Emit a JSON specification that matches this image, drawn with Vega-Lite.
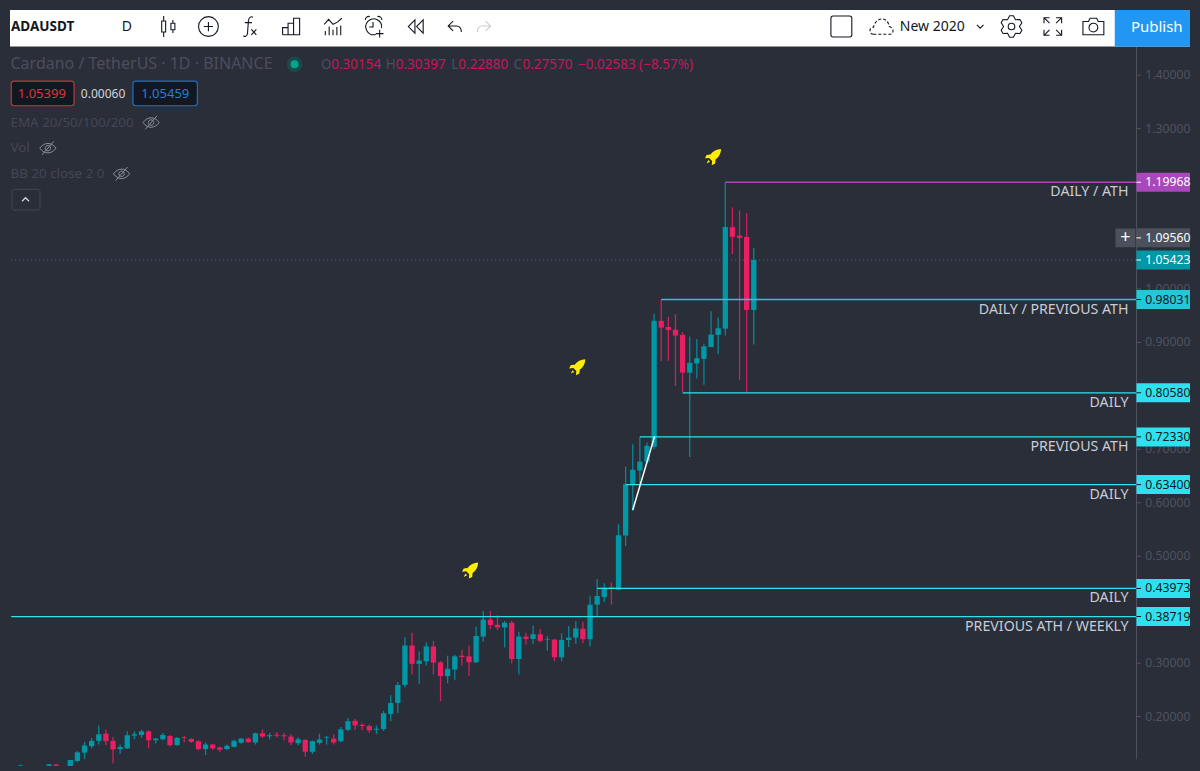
{
  "$schema": "https://vega.github.io/schema/vega-lite/v6.json",
  "autosize": {"type": "fit", "contains": "padding"},
  "width": 1200,
  "height": 771,
  "background": "#2a2e39",
  "config": {"view": {"stroke": null}, "text": {"font": "Noto Sans"}},
  "datasets": {
    "candles": [
      {"bar":2,"o":0.1085,"h":0.1105,"l":0.105,"c":0.1095},
      {"bar":6,"o":0.1079,"h":0.1115,"l":0.105,"c":0.1109},
      {"bar":7,"o":0.1103,"h":0.1115,"l":0.105,"c":0.1079},
      {"bar":9,"o":0.105,"h":0.119,"l":0.105,"c":0.1189},
      {"bar":10,"o":0.1171,"h":0.1355,"l":0.1146,"c":0.1331},
      {"bar":11,"o":0.1325,"h":0.1528,"l":0.1208,"c":0.146},
      {"bar":12,"o":0.1447,"h":0.1601,"l":0.1405,"c":0.1546},
      {"bar":13,"o":0.1546,"h":0.1835,"l":0.1478,"c":0.1669},
      {"bar":14,"o":0.1681,"h":0.1761,"l":0.1466,"c":0.154},
      {"bar":15,"o":0.1546,"h":0.162,"l":0.1122,"c":0.1386},
      {"bar":16,"o":0.1392,"h":0.1478,"l":0.13,"c":0.1429},
      {"bar":17,"o":0.1405,"h":0.1724,"l":0.1392,"c":0.1651},
      {"bar":18,"o":0.1644,"h":0.1724,"l":0.1577,"c":0.1669},
      {"bar":19,"o":0.1657,"h":0.1755,"l":0.1601,"c":0.1724},
      {"bar":20,"o":0.1724,"h":0.1743,"l":0.1405,"c":0.1558},
      {"bar":21,"o":0.1558,"h":0.1601,"l":0.1497,"c":0.1589},
      {"bar":22,"o":0.1577,"h":0.1694,"l":0.1558,"c":0.1657},
      {"bar":23,"o":0.1638,"h":0.1651,"l":0.1441,"c":0.1466},
      {"bar":24,"o":0.1466,"h":0.162,"l":0.1454,"c":0.1601},
      {"bar":25,"o":0.1614,"h":0.1638,"l":0.1515,"c":0.1601},
      {"bar":26,"o":0.1583,"h":0.1595,"l":0.1509,"c":0.1528},
      {"bar":27,"o":0.154,"h":0.1558,"l":0.1368,"c":0.1392},
      {"bar":28,"o":0.1392,"h":0.1515,"l":0.1281,"c":0.1478},
      {"bar":29,"o":0.1478,"h":0.1491,"l":0.138,"c":0.1405},
      {"bar":30,"o":0.1423,"h":0.1441,"l":0.1337,"c":0.138},
      {"bar":31,"o":0.1392,"h":0.1478,"l":0.1374,"c":0.1454},
      {"bar":32,"o":0.1435,"h":0.1571,"l":0.1423,"c":0.1546},
      {"bar":33,"o":0.1509,"h":0.1601,"l":0.1491,"c":0.1589},
      {"bar":34,"o":0.1589,"h":0.1608,"l":0.1515,"c":0.1521},
      {"bar":35,"o":0.1515,"h":0.17,"l":0.1478,"c":0.1687},
      {"bar":36,"o":0.1687,"h":0.1761,"l":0.1601,"c":0.1626},
      {"bar":37,"o":0.1632,"h":0.1694,"l":0.1577,"c":0.1651},
      {"bar":38,"o":0.1663,"h":0.1712,"l":0.1608,"c":0.1644},
      {"bar":39,"o":0.1651,"h":0.1694,"l":0.1552,"c":0.1632},
      {"bar":40,"o":0.1626,"h":0.1669,"l":0.1466,"c":0.1515},
      {"bar":41,"o":0.1503,"h":0.1614,"l":0.1466,"c":0.1577},
      {"bar":42,"o":0.1564,"h":0.1577,"l":0.1251,"c":0.1343},
      {"bar":43,"o":0.1343,"h":0.1552,"l":0.13,"c":0.154},
      {"bar":44,"o":0.1509,"h":0.1681,"l":0.1478,"c":0.1571},
      {"bar":45,"o":0.1601,"h":0.1638,"l":0.1478,"c":0.1614},
      {"bar":46,"o":0.1589,"h":0.1669,"l":0.1478,"c":0.1515},
      {"bar":47,"o":0.154,"h":0.1804,"l":0.1515,"c":0.1761},
      {"bar":48,"o":0.1755,"h":0.1976,"l":0.173,"c":0.1915},
      {"bar":49,"o":0.1921,"h":0.1958,"l":0.1749,"c":0.1835},
      {"bar":50,"o":0.1847,"h":0.1878,"l":0.1743,"c":0.1823},
      {"bar":51,"o":0.1823,"h":0.1853,"l":0.17,"c":0.1743},
      {"bar":52,"o":0.1755,"h":0.1835,"l":0.1675,"c":0.1773},
      {"bar":53,"o":0.1767,"h":0.2106,"l":0.173,"c":0.2063},
      {"bar":54,"o":0.205,"h":0.2401,"l":0.1915,"c":0.2253},
      {"bar":55,"o":0.2254,"h":0.2648,"l":0.2064,"c":0.2592},
      {"bar":56,"o":0.2592,"h":0.3484,"l":0.2543,"c":0.333},
      {"bar":57,"o":0.333,"h":0.357,"l":0.2789,"c":0.2986},
      {"bar":58,"o":0.2986,"h":0.322,"l":0.2617,"c":0.3048},
      {"bar":59,"o":0.3035,"h":0.3392,"l":0.2955,"c":0.3312},
      {"bar":60,"o":0.3312,"h":0.3417,"l":0.2789,"c":0.3011},
      {"bar":61,"o":0.30154,"h":0.30397,"l":0.2288,"c":0.2757},
      {"bar":62,"o":0.2757,"h":0.314,"l":0.2623,"c":0.2894},
      {"bar":63,"o":0.2881,"h":0.3158,"l":0.2691,"c":0.3127},
      {"bar":64,"o":0.314,"h":0.3251,"l":0.2955,"c":0.3115},
      {"bar":65,"o":0.3127,"h":0.3324,"l":0.2758,"c":0.3017},
      {"bar":66,"o":0.3017,"h":0.3681,"l":0.3004,"c":0.3509},
      {"bar":67,"o":0.3496,"h":0.3976,"l":0.3404,"c":0.3816},
      {"bar":68,"o":0.3816,"h":0.3976,"l":0.3638,"c":0.3712},
      {"bar":69,"o":0.3718,"h":0.3896,"l":0.3619,"c":0.3669},
      {"bar":70,"o":0.3669,"h":0.3786,"l":0.3294,"c":0.3755},
      {"bar":71,"o":0.3755,"h":0.3792,"l":0.2992,"c":0.3078},
      {"bar":72,"o":0.3078,"h":0.3589,"l":0.2789,"c":0.3497},
      {"bar":73,"o":0.3497,"h":0.357,"l":0.3343,"c":0.3453},
      {"bar":74,"o":0.3453,"h":0.3699,"l":0.3355,"c":0.354},
      {"bar":75,"o":0.354,"h":0.3638,"l":0.3392,"c":0.3417},
      {"bar":76,"o":0.3435,"h":0.3509,"l":0.3232,"c":0.3447},
      {"bar":77,"o":0.3441,"h":0.3453,"l":0.3035,"c":0.3109},
      {"bar":78,"o":0.3109,"h":0.3558,"l":0.3035,"c":0.3435},
      {"bar":79,"o":0.3435,"h":0.3693,"l":0.33,"c":0.3478},
      {"bar":80,"o":0.3478,"h":0.3786,"l":0.3361,"c":0.365},
      {"bar":81,"o":0.3644,"h":0.3773,"l":0.3373,"c":0.3447},
      {"bar":82,"o":0.3447,"h":0.4253,"l":0.3312,"c":0.4093},
      {"bar":83,"o":0.4095,"h":0.4575,"l":0.388,"c":0.4255},
      {"bar":84,"o":0.4236,"h":0.4495,"l":0.4144,"c":0.4409},
      {"bar":85,"o":0.4421,"h":0.4507,"l":0.4095,"c":0.4403},
      {"bar":86,"o":0.4378,"h":0.5602,"l":0.436,"c":0.5393},
      {"bar":87,"o":0.5387,"h":0.6678,"l":0.519,"c":0.6346},
      {"bar":88,"o":0.6346,"h":0.7096,"l":0.5848,"c":0.6617},
      {"bar":89,"o":0.6604,"h":0.7233,"l":0.6346,"c":0.677},
      {"bar":90,"o":0.677,"h":0.7127,"l":0.6758,"c":0.7066},
      {"bar":91,"o":0.7047,"h":0.9541,"l":0.7,"c":0.9405},
      {"bar":92,"o":0.9405,"h":0.9805,"l":0.8649,"c":0.9276},
      {"bar":93,"o":0.9289,"h":0.9479,"l":0.8655,"c":0.9233},
      {"bar":94,"o":0.9239,"h":0.9528,"l":0.8188,"c":0.9129},
      {"bar":95,"o":0.9141,"h":0.919,"l":0.8071,"c":0.8434},
      {"bar":96,"o":0.8434,"h":0.911,"l":0.6856,"c":0.8618},
      {"bar":97,"o":0.8606,"h":0.9061,"l":0.8323,"c":0.8704},
      {"bar":98,"o":0.8692,"h":0.8975,"l":0.8206,"c":0.8926},
      {"bar":99,"o":0.8913,"h":0.9584,"l":0.8913,"c":0.9147},
      {"bar":100,"o":0.9141,"h":0.9467,"l":0.8778,"c":0.9264},
      {"bar":101,"o":0.9258,"h":1.19968,"l":0.9129,"c":1.1158},
      {"bar":102,"o":1.1158,"h":1.1527,"l":1.0654,"c":1.0974},
      {"bar":103,"o":1.0998,"h":1.1466,"l":0.8298,"c":1.0955},
      {"bar":104,"o":1.0974,"h":1.1423,"l":0.8058,"c":0.9608},
      {"bar":105,"o":0.9608,"h":1.0771,"l":0.8963,"c":1.05423}
    ],
    "levels": [
      {"price":1.19968,"bar":101,"to":158.75,"kind":"ath","label":"DAILY / ATH"},
      {"price":0.98031,"bar":92,"to":158.75,"kind":"prev","label":"DAILY / PREVIOUS ATH"},
      {"price":0.8058,"bar":95,"to":158.75,"kind":"level","label":"DAILY"},
      {"price":0.7233,"bar":89,"to":158.75,"kind":"level","label":"PREVIOUS ATH"},
      {"price":0.634,"bar":87,"to":158.75,"kind":"level","label":"DAILY"},
      {"price":0.43973,"bar":83,"to":158.75,"kind":"level","label":"DAILY"},
      {"price":0.38719,"bar":0.7,"to":158.75,"kind":"level","label":"PREVIOUS ATH / WEEKLY"}
    ],
    "tags": [
      {"price":1.19968,"bar":158.75,"to":166.27,"kind":"ath"},
      {"price":1.0956,"bar":158.75,"to":166.27,"kind":"cross"},
      {"price":1.05423,"bar":158.75,"to":166.27,"kind":"last"},
      {"price":0.98031,"bar":158.75,"to":166.27,"kind":"prev"},
      {"price":0.8058,"bar":158.75,"to":166.27,"kind":"level"},
      {"price":0.7233,"bar":158.75,"to":166.27,"kind":"level"},
      {"price":0.634,"bar":158.75,"to":166.27,"kind":"level"},
      {"price":0.43973,"bar":158.75,"to":166.27,"kind":"level"},
      {"price":0.38719,"bar":158.75,"to":166.27,"kind":"level"}
    ],
    "priceTicks": [
      {"bar":158.75,"to":159.4,"price":1.4},
      {"bar":158.75,"to":159.4,"price":1.3},
      {"bar":158.75,"to":159.4,"price":1.0},
      {"bar":158.75,"to":159.4,"price":0.9},
      {"bar":158.75,"to":159.4,"price":0.7},
      {"bar":158.75,"to":159.4,"price":0.6},
      {"bar":158.75,"to":159.4,"price":0.5},
      {"bar":158.75,"to":159.4,"price":0.3},
      {"bar":158.75,"to":159.4,"price":0.2}
    ]
  },
  "encoding": {
    "x": {"field": "bar", "type": "quantitative", "axis": null, "scale": {"domain": [0.529, 166.27], "nice": false, "zero": false}},
    "y": {"field": "price", "type": "quantitative", "axis": null, "scale": {"domain": [0.11695, 1.5219], "nice": false, "zero": false}}
  },
  "layer": [
    {
      "data": {"values": [{"bar": 158.75, "price": 1.4536, "end": 0.12}]},
      "mark": {"type": "rule", "color": "#50535e", "strokeWidth": 1},
      "encoding": {"y2": {"field": "end"}}
    },
    {
      "data": {"name": "priceTicks"},
      "mark": {"type": "rule", "color": "#50535e", "strokeWidth": 1},
      "encoding": {"x2": {"field": "to"}}
    },
    {
      "data": {"name": "priceTicks"},
      "mark": {"type": "text", "align": "left", "baseline": "middle", "fontSize": 12.2, "color": "#4f535e"},
      "encoding": {"x": {"datum": 160}, "text": {"field": "price", "format": ".5f"}}
    },
    {
      "data": {"values": [{"bar": 0.7, "to": 158.75, "price": 1.05423}]},
      "mark": {"type": "rule", "color": "#0097a7", "strokeWidth": 1, "strokeDash": [1, 3]},
      "encoding": {"x2": {"field": "to"}}
    },
    {
      "data": {"name": "candles"},
      "mark": {"type": "rule", "strokeWidth": 1.3, "opacity": 0.85, "clip": true},
      "encoding": {
        "y": {"field": "l", "type": "quantitative"},
        "y2": {"field": "h"},
        "color": {"condition": {"test": "datum.c >= datum.o", "value": "#0097a7"}, "value": "#e91e63"}
      }
    },
    {
      "data": {"name": "candles"},
      "mark": {"type": "bar", "size": 5.3, "clip": true},
      "encoding": {
        "y": {"field": "o", "type": "quantitative"},
        "y2": {"field": "c"},
        "color": {"condition": {"test": "datum.c >= datum.o", "value": "#0097a7"}, "value": "#e91e63"}
      }
    },
    {
      "data": {"name": "levels"},
      "mark": {"type": "rule", "strokeWidth": 1.3},
      "encoding": {
        "x2": {"field": "to"},
        "color": {"field": "kind", "type": "nominal", "legend": null, "scale": {"domain": ["ath", "cross", "last", "prev", "level"], "range": ["#ab47bc", "#4c505b", "#0097a7", "#26c6da", "#2de2ee"]}}
      }
    },
    {
      "data": {"values": [{"bar": 88, "price": 0.5864}, {"bar": 91.06, "price": 0.7238}]},
      "mark": {"type": "line", "color": "#ffffff", "strokeWidth": 1.5}
    },
    {
      "data": {"name": "levels"},
      "mark": {"type": "text", "align": "right", "baseline": "middle", "dy": 10, "fontSize": 14.2, "color": "#c8ccd4"},
      "encoding": {"x": {"datum": 157.63}, "text": {"field": "label"}}
    },
    {
      "data": {"values": [{"bar": 155.8, "to": 158.6, "price": 1.1132, "top": 1.0781}]},
      "mark": {"type": "rect", "color": "#4c505b"},
      "encoding": {"x2": {"field": "to"}, "y2": {"field": "top"}}
    },
    {
      "data": {"name": "tags"},
      "mark": {"type": "bar", "orient": "horizontal", "size": 19},
      "encoding": {
        "x2": {"field": "to"},
        "color": {"field": "kind", "type": "nominal", "legend": null}
      }
    },
    {
      "data": {"name": "tags"},
      "mark": {"type": "rule", "strokeWidth": 1},
      "encoding": {
        "x": {"datum": 158.75},
        "x2": {"datum": 159.4},
        "color": {"condition": {"test": "datum.kind == 'prev' || datum.kind == 'level'", "value": "#131722"}, "value": "#ffffff"}
      }
    },
    {
      "data": {"name": "tags"},
      "mark": {"type": "text", "align": "left", "baseline": "middle", "fontSize": 12.2},
      "encoding": {
        "x": {"datum": 160},
        "text": {"field": "price", "format": ".5f"},
        "color": {"condition": {"test": "datum.kind == 'prev' || datum.kind == 'level'", "value": "#131722"}, "value": "#ffffff"}
      }
    },
    {
      "data": {"values": [{"bar": 157.2, "price": 1.0956, "sign": "+"}]},
      "mark": {"type": "text", "align": "center", "baseline": "middle", "fontSize": 18, "color": "#ffffff"},
      "encoding": {"text": {"field": "sign"}}
    },
    {
      "data": {"values": [{"bar": 99.27, "price": 1.2468}, {"bar": 80.2, "price": 0.8536}, {"bar": 65.15, "price": 0.4733}]},
      "mark": {
        "type": "point", "filled": true, "opacity": 1, "color": "#ffee00", "size": 289,
        "shape": "M0.95,-0.95 C0.45,-0.95 0,-0.7 -0.3,-0.3 L-0.75,-0.25 L-0.95,0.15 L-0.45,0.1 L-0.1,0.45 L-0.15,0.95 L0.25,0.75 L0.3,0.3 C0.7,0 0.95,-0.45 0.95,-0.95 Z M-0.55,0.35 L-0.35,0.55 L-0.75,0.75 Z"
      }
    },
    {
      "data": {"values": [{"bar": 0.529, "to": 166.27, "price": 1.5219, "top": 1.4536}]},
      "mark": {"type": "rect", "color": "#ffffff"},
      "encoding": {"x2": {"field": "to"}, "y2": {"field": "top"}}
    },
    {
      "data": {"values": [{"bar": 155.7, "to": 166.27, "price": 1.5219, "top": 1.4536}]},
      "mark": {"type": "rect", "color": "#2196f3"},
      "encoding": {"x2": {"field": "to"}, "y2": {"field": "top"}}
    },
    {
      "data": {"values": [
        {"bar": 14.1}, {"bar": 19.8}, {"bar": 25.6}, {"bar": 31.4}, {"bar": 37.2}, {"bar": 42.9}, {"bar": 48.7}, {"bar": 54.65}, {"bar": 60.4}, {"bar": 69.6},
        {"bar": 114.4}, {"bar": 120.2}, {"bar": 138.3}, {"bar": 144.1}, {"bar": 149.8}
      ]},
      "mark": {"type": "rule", "color": "#e0e3eb", "strokeWidth": 1},
      "encoding": {"y": {"datum": 1.5195}, "y2": {"datum": 1.4554}}
    },
    {
      "data": {"values": [{"bar": 0.67, "price": 1.491, "label": "ADAUSDT"}]},
      "mark": {"type": "text", "align": "left", "baseline": "middle", "fontSize": 13.5, "fontWeight": "bold", "color": "#131722"},
      "encoding": {"text": {"field": "label"}}
    },
    {
      "data": {"values": [{"bar": 16.96, "price": 1.491, "label": "D"}]},
      "mark": {"type": "text", "align": "center", "baseline": "middle", "fontSize": 14, "color": "#131722"},
      "encoding": {"text": {"field": "label"}}
    },
    {
      "data": {"values": [{"bar": 125.5, "price": 1.491, "label": "New 2020"}]},
      "mark": {"type": "text", "align": "left", "baseline": "middle", "fontSize": 14, "color": "#131722"},
      "encoding": {"text": {"field": "label"}}
    },
    {
      "data": {"values": [{"bar": 161.6, "price": 1.491, "label": "Publish"}]},
      "mark": {"type": "text", "align": "center", "baseline": "middle", "fontSize": 15, "color": "#ffffff"},
      "encoding": {"text": {"field": "label"}}
    },
    {
      "data": {"values": [
        {"bar": 22.76, "price": 1.491, "icon": "candles"},
        {"bar": 28.4, "price": 1.491, "icon": "add"},
        {"bar": 34.2, "price": 1.491, "icon": "fx"},
        {"bar": 40.05, "price": 1.491, "icon": "bars"},
        {"bar": 45.9, "price": 1.491, "icon": "indicators"},
        {"bar": 51.6, "price": 1.491, "icon": "alarm"},
        {"bar": 57.56, "price": 1.491, "icon": "rewind"},
        {"bar": 63, "price": 1.491, "icon": "undo"},
        {"bar": 117.3, "price": 1.491, "icon": "square"},
        {"bar": 136.8, "price": 1.491, "icon": "chevron"},
        {"bar": 141.2, "price": 1.491, "icon": "gear"},
        {"bar": 147, "price": 1.491, "icon": "full"},
        {"bar": 152.7, "price": 1.491, "icon": "camera"}
      ]},
      "mark": {"type": "point", "filled": false, "opacity": 1, "color": "#131722", "strokeWidth": 1.1, "size": 484},
      "encoding": {
        "shape": {
          "field": "icon", "type": "nominal", "legend": null,
          "scale": {
            "domain": ["candles", "add", "fx", "bars", "indicators", "alarm", "rewind", "undo", "square", "chevron", "gear", "full", "camera"],
            "range": [
              "M-0.42,-0.95V-0.5M-0.42,0.5V0.95M-0.6,-0.5H-0.24V0.5H-0.6ZM0.42,-0.6V-0.3M0.42,0.3V0.6M0.24,-0.3H0.6V0.3H0.24Z",
              "M0.9,0 A0.9,0.9 0 1 1 -0.9,0 A0.9,0.9 0 1 1 0.9,0 Z M0,-0.42 V0.42 M-0.42,0 H0.42",
              "M0.3,-0.85 C0.1,-0.95 -0.1,-0.8 -0.12,-0.5 L-0.2,0.6 C-0.22,0.9 -0.45,0.95 -0.6,0.85 M-0.45,-0.35 H0.2 M0.15,0.25 L0.6,0.75 M0.6,0.25 L0.15,0.75",
              "M-0.8,0.75H0.8 M-0.8,0.75V0.1H-0.3V0.75 M-0.3,0.75V-0.3H0.2V0.75 M0.2,0.75V-0.75H0.75V0.75",
              "M-0.8,-0.2 L-0.4,-0.65 L0,-0.2 L0.4,-0.4 L0.8,-0.75 M-0.7,0.8V0.4 M-0.35,0.8V0 M0,0.8V0.3 M0.35,0.8V0.05 M0.7,0.8V-0.1",
              "M0.2,0.72 A0.72,0.72 0 1 1 0.72,0.15 M-0.05,-0.4V0.05H-0.4 M-0.75,-0.6 A0.3,0.3 0 0 1 -0.35,-0.9 M0.75,-0.6 A0.3,0.3 0 0 0 0.35,-0.9 M0.55,0.3V1 M0.2,0.65H0.9",
              "M-0.1,-0.6 L-0.7,0 L-0.1,0.6 Z M0.65,-0.6 L0.05,0 L0.65,0.6 Z",
              "M-0.15,-0.5 L-0.6,-0.05 L-0.15,0.4 M-0.6,-0.05 H0.15 C0.5,-0.05 0.6,0.2 0.6,0.5",
              "M-0.75,-0.95 H0.75 Q0.95,-0.95 0.95,-0.75 V0.75 Q0.95,0.95 0.75,0.95 H-0.75 Q-0.95,0.95 -0.95,0.75 V-0.75 Q-0.95,-0.95 -0.75,-0.95 Z",
              "M-0.3,-0.15 L0,0.15 L0.3,-0.15",
              "M-0.17,-0.98 L0.17,-0.98 L0.36,-0.62 L0.77,-0.64 L0.94,-0.34 L0.72,0 L0.94,0.34 L0.77,0.64 L0.36,0.62 L0.17,0.98 L-0.17,0.98 L-0.36,0.62 L-0.77,0.64 L-0.94,0.34 L-0.72,0 L-0.94,-0.34 L-0.77,-0.64 L-0.36,-0.62 Z M0.3,0 A0.3,0.3 0 1 1 -0.3,0 A0.3,0.3 0 1 1 0.3,0 Z",
              "M-0.8,-0.3 V-0.8 H-0.3 M-0.8,-0.8 L-0.3,-0.3 M0.3,-0.8 H0.8 V-0.3 M0.8,-0.8 L0.3,-0.3 M-0.8,0.3 V0.8 H-0.3 M-0.8,0.8 L-0.3,0.3 M0.3,0.8 H0.8 V0.3 M0.8,0.8 L0.3,0.3",
              "M-0.95,-0.45 H-0.45 L-0.3,-0.75 H0.3 L0.45,-0.45 H0.95 V0.75 H-0.95 Z M0.4,0.1 A0.4,0.4 0 1 1 -0.4,0.1 A0.4,0.4 0 1 1 0.4,0.1 Z"
            ]
          }
        }
      }
    },
    {
      "data": {"values": [{"bar": 67.1, "price": 1.491}]},
      "mark": {"type": "point", "filled": false, "opacity": 1, "color": "#c8ccd4", "strokeWidth": 1.1, "size": 484, "shape": "M0.15,-0.5 L0.6,-0.05 L0.15,0.4 M0.6,-0.05 H-0.15 C-0.5,-0.05 -0.6,0.2 -0.6,0.5"}
    },
    {
      "data": {"values": [{"bar": 123, "price": 1.491}]},
      "mark": {"type": "point", "filled": false, "opacity": 1, "color": "#131722", "strokeWidth": 1.1, "strokeDash": [3, 2], "size": 576, "shape": "M-0.7,0.65 C-1.1,0.65 -1.1,0.05 -0.7,0.05 C-0.5,-0.85 0.5,-0.85 0.6,0 C1.05,0.1 1,0.65 0.65,0.65 Z"}
    },
    {
      "data": {"values": [{"bar": 0.6, "price": 1.4203, "label": "Cardano / TetherUS · 1D · BINANCE"}]},
      "mark": {"type": "text", "align": "left", "baseline": "middle", "fontSize": 16, "color": "#4a4e59"},
      "encoding": {"text": {"field": "label"}}
    },
    {
      "data": {"values": [{"bar": 40.5, "price": 1.4203}]},
      "mark": {"type": "point", "filled": true, "opacity": 1, "color": "#1c4a4a", "size": 240, "shape": "circle"}
    },
    {
      "data": {"values": [{"bar": 40.5, "price": 1.4203}]},
      "mark": {"type": "point", "filled": true, "opacity": 1, "color": "#00a58c", "size": 64, "shape": "circle"}
    },
    {
      "data": {"values": [
        {"bar": 44.2, "price": 1.4185, "label": "O"},
        {"bar": 53.3, "price": 1.4185, "label": "H"},
        {"bar": 62.5, "price": 1.4185, "label": "L"},
        {"bar": 71.25, "price": 1.4185, "label": "C"}
      ]},
      "mark": {"type": "text", "align": "left", "baseline": "middle", "fontSize": 13.5, "color": "#4a4e59"},
      "encoding": {"text": {"field": "label"}}
    },
    {
      "data": {"values": [
        {"bar": 45.65, "price": 1.4185, "label": "0.30154"},
        {"bar": 54.7, "price": 1.4185, "label": "0.30397"},
        {"bar": 63.5, "price": 1.4185, "label": "0.22880"},
        {"bar": 72.5, "price": 1.4185, "label": "0.27570"},
        {"bar": 80.3, "price": 1.4185, "label": "−0.02583 (−8.57%)"}
      ]},
      "mark": {"type": "text", "align": "left", "baseline": "middle", "fontSize": 13.5, "color": "#c2185b"},
      "encoding": {"text": {"field": "label"}}
    },
    {
      "data": {"values": [{"bar": 0.7, "to": 9.53, "price": 1.3889, "top": 1.3428}]},
      "mark": {"type": "rect", "fill": "#131722", "stroke": "#b93a3f", "strokeWidth": 1.2, "cornerRadius": 3},
      "encoding": {"x2": {"field": "to"}, "y2": {"field": "top"}}
    },
    {
      "data": {"values": [{"bar": 17.8, "to": 26.85, "price": 1.3889, "top": 1.3428}]},
      "mark": {"type": "rect", "fill": "#131722", "stroke": "#1f6fc0", "strokeWidth": 1.2, "cornerRadius": 3},
      "encoding": {"x2": {"field": "to"}, "y2": {"field": "top"}}
    },
    {
      "data": {"values": [{"bar": 4.99, "price": 1.3655, "label": "1.05399"}]},
      "mark": {"type": "text", "align": "center", "baseline": "middle", "fontSize": 13, "color": "#d8383c"},
      "encoding": {"text": {"field": "label"}}
    },
    {
      "data": {"values": [{"bar": 13.6, "price": 1.3655, "label": "0.00060"}]},
      "mark": {"type": "text", "align": "center", "baseline": "middle", "fontSize": 12, "color": "#d1d4dc"},
      "encoding": {"text": {"field": "label"}}
    },
    {
      "data": {"values": [{"bar": 22.33, "price": 1.3655, "label": "1.05459"}]},
      "mark": {"type": "text", "align": "center", "baseline": "middle", "fontSize": 13, "color": "#2a7fd0"},
      "encoding": {"text": {"field": "label"}}
    },
    {
      "data": {"values": [
        {"bar": 0.6, "price": 1.3114, "label": "EMA 20/50/100/200"},
        {"bar": 0.6, "price": 1.2634, "label": "Vol"},
        {"bar": 0.6, "price": 1.2154, "label": "BB 20 close 2 0"}
      ]},
      "mark": {"type": "text", "align": "left", "baseline": "middle", "fontSize": 13.4, "color": "#434752"},
      "encoding": {"text": {"field": "label"}}
    },
    {
      "data": {"values": [{"bar": 20.35, "price": 1.3114}, {"bar": 5.85, "price": 1.2634}, {"bar": 16.2, "price": 1.2154}]},
      "mark": {"type": "point", "filled": false, "opacity": 1, "color": "#8d919b", "strokeWidth": 1, "size": 324, "shape": "M-0.9,0 C-0.4,-0.7 0.4,-0.7 0.9,0 C0.4,0.7 -0.4,0.7 -0.9,0 Z M0.3,0 A0.3,0.3 0 1 1 -0.3,0 A0.3,0.3 0 1 1 0.3,0 Z M-0.65,0.75 L0.65,-0.75"}
    },
    {
      "data": {"values": [{"bar": 0.8, "to": 4.74, "price": 1.1864, "top": 1.1477}]},
      "mark": {"type": "rect", "fill": "transparent", "stroke": "#434752", "strokeWidth": 1, "cornerRadius": 2},
      "encoding": {"x2": {"field": "to"}, "y2": {"field": "top"}}
    },
    {
      "data": {"values": [{"bar": 2.71, "price": 1.1674}]},
      "mark": {"type": "point", "filled": false, "opacity": 1, "color": "#d1d4dc", "strokeWidth": 1.3, "size": 100, "shape": "M-0.7,0.35 L0,-0.35 L0.7,0.35"}
    }
  ]
}
